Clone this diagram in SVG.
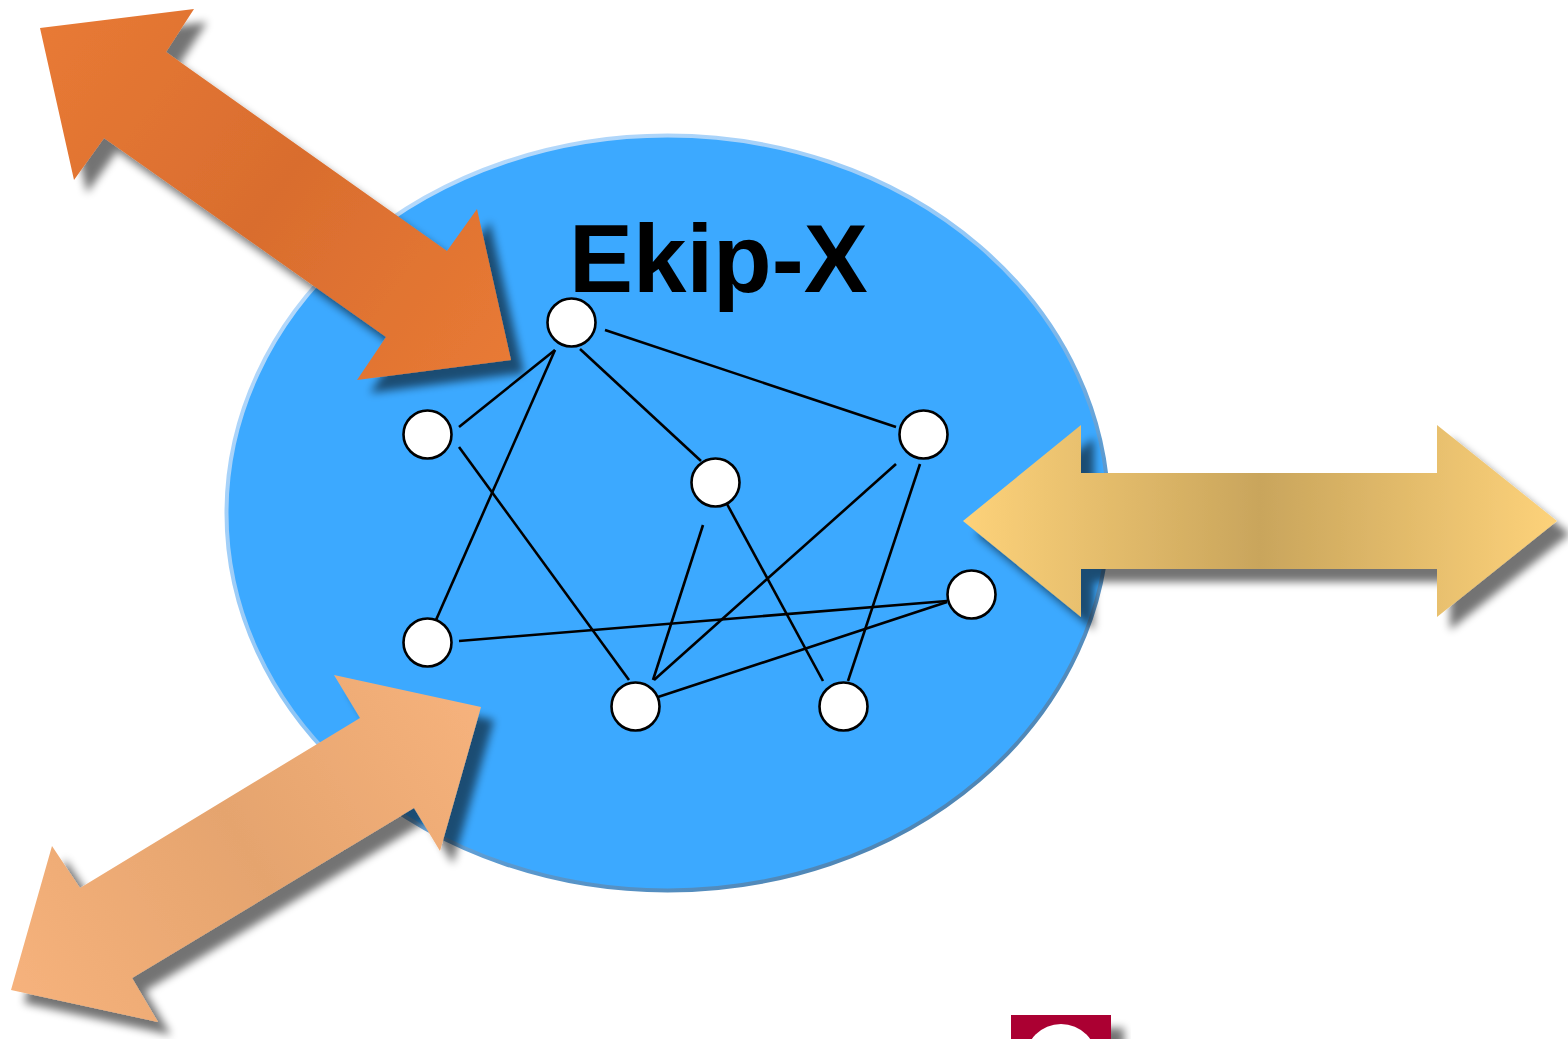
<svg xmlns="http://www.w3.org/2000/svg" width="1568" height="1039" viewBox="0 0 1568 1039">
<style>
.edge{stroke:#000;stroke-width:2.6;fill:none;stroke-linecap:butt}
.node{fill:#fff;stroke:#000;stroke-width:2.6}
.shadowed{filter:url(#sh)}
text{font-family:"Liberation Sans",Arial,sans-serif;font-weight:700;font-size:96px;fill:#000}
</style>
<defs>
<filter id="sh" x="-20%" y="-20%" width="140%" height="140%">
<feGaussianBlur in="SourceAlpha" stdDeviation="4.5" result="b"/>
<feOffset in="b" dx="13" dy="13" result="o"/>
<feComponentTransfer in="o" result="c"><feFuncA type="linear" slope="0.55"/></feComponentTransfer>
<feMerge><feMergeNode in="c"/><feMergeNode in="SourceGraphic"/></feMerge>
</filter>
<linearGradient id="rim" x1="0.2" y1="0.1" x2="0.8" y2="0.9">
<stop offset="0" stop-color="#b5d9fb"/><stop offset="0.5" stop-color="#8cc4f5"/><stop offset="0.75" stop-color="#5b9ad0"/><stop offset="1" stop-color="#4f86b5"/>
</linearGradient>
<linearGradient id="orange" gradientUnits="userSpaceOnUse" x1="40" y1="28" x2="510" y2="360">
<stop offset="0" stop-color="#e87a35"/><stop offset="0.5" stop-color="#d96d2e"/><stop offset="1" stop-color="#e87a35"/>
</linearGradient>
<linearGradient id="peach" gradientUnits="userSpaceOnUse" x1="11" y1="990" x2="481" y2="707">
<stop offset="0" stop-color="#f6b27c"/><stop offset="0.5" stop-color="#e5a46e"/><stop offset="1" stop-color="#f6b27c"/>
</linearGradient>
<linearGradient id="gold" gradientUnits="userSpaceOnUse" x1="963" y1="0" x2="1557" y2="0">
<stop offset="0" stop-color="#fdd27a"/><stop offset="0.5" stop-color="#c9a55c"/><stop offset="1" stop-color="#fdd27a"/>
</linearGradient>
</defs>

<g id="badge" class="shadowed">
<rect x="1011" y="1015" width="100" height="40" fill="#ab0033"/>
<circle cx="1061" cy="1060" r="36" fill="#fff"/>
</g>

<g id="team-area">
<ellipse cx="667.5" cy="513" rx="441" ry="377.5" fill="#3ca9ff" stroke="url(#rim)" stroke-width="4"/>
</g>

<g id="connectors">
<line class="edge" x1="555" y1="350" x2="459" y2="427"/>
<line class="edge" x1="555" y1="350" x2="436" y2="620"/>
<line class="edge" x1="580" y1="349" x2="701" y2="461"/>
<line class="edge" x1="605" y1="330" x2="896" y2="427"/>
<line class="edge" x1="459" y1="447" x2="629" y2="680"/>
<line class="edge" x1="703" y1="525" x2="653" y2="680"/>
<line class="edge" x1="727" y1="504" x2="823" y2="681"/>
<line class="edge" x1="896" y1="464" x2="654" y2="680"/>
<line class="edge" x1="920" y1="464" x2="848" y2="681"/>
<line class="edge" x1="459" y1="641" x2="947" y2="601"/>
<line class="edge" x1="658" y1="697" x2="947" y2="602"/>
</g>

<g id="node-top"><circle class="node" cx="571.500" cy="322.500" r="24"/></g>
<g id="node-left-upper"><circle class="node" cx="427.500" cy="434.500" r="24"/></g>
<g id="node-center"><circle class="node" cx="715.500" cy="482.500" r="24"/></g>
<g id="node-right-upper"><circle class="node" cx="923.500" cy="434.500" r="24"/></g>
<g id="node-right-lower"><circle class="node" cx="971.500" cy="594.500" r="24"/></g>
<g id="node-left-lower"><circle class="node" cx="427.500" cy="642.500" r="24"/></g>
<g id="node-bottom-left"><circle class="node" cx="635.500" cy="706.500" r="24"/></g>
<g id="node-bottom-right"><circle class="node" cx="843.500" cy="706.500" r="24"/></g>

<g id="title"><text x="569" y="292">Ekip-X</text></g>

<g id="arrow-top-left" class="shadowed">
<polygon points="40,28 194,9 166,52 447,251 477,209 511,360 357,380 386,337 104,138 74,180" fill="url(#orange)"/>
</g>
<g id="arrow-bottom-left" class="shadowed">
<polygon points="334,675 481,707 440,851 414,808 132,978 158,1022 11,990 52,846 80,888 360,718" fill="url(#peach)"/>
</g>
<g id="arrow-right" class="shadowed">
<polygon points="963,521 1081,425 1081,473 1437,473 1437,425 1557,521 1437,617 1437,569 1081,569 1081,617" fill="url(#gold)"/>
</g>
</svg>
